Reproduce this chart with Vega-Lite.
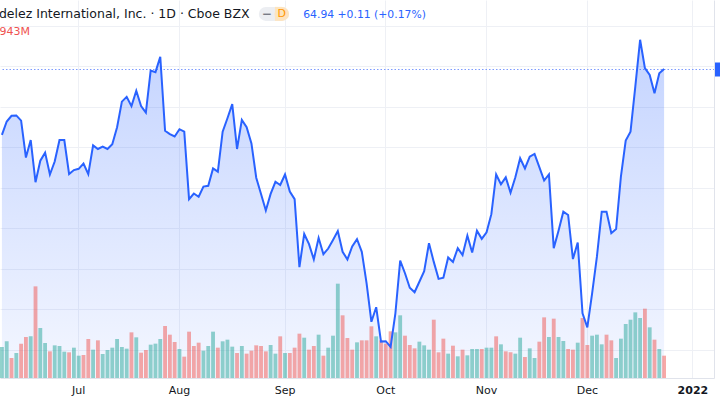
{
  "$schema": "https://vega.github.io/schema/vega-lite/v6.json",
  "width": 714,
  "height": 378,
  "autosize": "none",
  "padding": {"left": 0, "top": 0, "right": 6, "bottom": 22},
  "background": "white",
  "config": {"view": {"stroke": null}, "font": "DejaVu Sans", "text": {"font": "DejaVu Sans"}},
  "data": {"values": [
    {"date":"2021-06-09","close":63.31,"volume":8.25,"dir":"up"},
    {"date":"2021-06-10","close":63.64,"volume":9.76,"dir":"up"},
    {"date":"2021-06-11","close":63.78,"volume":5.32,"dir":"down"},
    {"date":"2021-06-14","close":63.79,"volume":6.65,"dir":"up"},
    {"date":"2021-06-15","close":63.66,"volume":9.14,"dir":"down"},
    {"date":"2021-06-16","close":62.75,"volume":10.91,"dir":"down"},
    {"date":"2021-06-17","close":63.18,"volume":11.09,"dir":"up"},
    {"date":"2021-06-18","close":62.14,"volume":24.39,"dir":"down"},
    {"date":"2021-06-21","close":62.67,"volume":13.31,"dir":"up"},
    {"date":"2021-06-22","close":62.87,"volume":9.31,"dir":"up"},
    {"date":"2021-06-23","close":62.33,"volume":7.10,"dir":"down"},
    {"date":"2021-06-24","close":62.65,"volume":8.69,"dir":"up"},
    {"date":"2021-06-25","close":63.18,"volume":8.52,"dir":"up"},
    {"date":"2021-06-28","close":63.18,"volume":7.01,"dir":"up"},
    {"date":"2021-06-29","close":62.34,"volume":6.83,"dir":"down"},
    {"date":"2021-06-30","close":62.44,"volume":8.07,"dir":"up"},
    {"date":"2021-07-01","close":62.47,"volume":5.94,"dir":"up"},
    {"date":"2021-07-02","close":62.60,"volume":6.12,"dir":"down"},
    {"date":"2021-07-06","close":62.34,"volume":10.38,"dir":"down"},
    {"date":"2021-07-07","close":63.05,"volume":7.54,"dir":"up"},
    {"date":"2021-07-08","close":62.96,"volume":10.02,"dir":"down"},
    {"date":"2021-07-09","close":63.02,"volume":6.39,"dir":"up"},
    {"date":"2021-07-12","close":62.96,"volume":7.45,"dir":"up"},
    {"date":"2021-07-13","close":63.08,"volume":8.07,"dir":"up"},
    {"date":"2021-07-14","close":63.50,"volume":10.38,"dir":"up"},
    {"date":"2021-07-15","close":64.13,"volume":8.25,"dir":"up"},
    {"date":"2021-07-16","close":64.25,"volume":7.81,"dir":"up"},
    {"date":"2021-07-19","close":64.02,"volume":12.15,"dir":"down"},
    {"date":"2021-07-20","close":64.40,"volume":10.82,"dir":"up"},
    {"date":"2021-07-21","close":64.02,"volume":6.74,"dir":"down"},
    {"date":"2021-07-22","close":63.86,"volume":7.45,"dir":"down"},
    {"date":"2021-07-23","close":64.90,"volume":8.87,"dir":"up"},
    {"date":"2021-07-26","close":64.86,"volume":9.14,"dir":"up"},
    {"date":"2021-07-27","close":65.24,"volume":10.38,"dir":"up"},
    {"date":"2021-07-28","close":63.41,"volume":13.84,"dir":"down"},
    {"date":"2021-07-29","close":63.33,"volume":11.53,"dir":"down"},
    {"date":"2021-07-30","close":63.27,"volume":9.58,"dir":"down"},
    {"date":"2021-08-02","close":63.45,"volume":7.72,"dir":"up"},
    {"date":"2021-08-03","close":63.39,"volume":5.68,"dir":"down"},
    {"date":"2021-08-04","close":61.72,"volume":12.33,"dir":"down"},
    {"date":"2021-08-05","close":61.86,"volume":8.52,"dir":"down"},
    {"date":"2021-08-06","close":61.78,"volume":9.40,"dir":"down"},
    {"date":"2021-08-09","close":62.03,"volume":7.27,"dir":"up"},
    {"date":"2021-08-10","close":62.05,"volume":8.52,"dir":"up"},
    {"date":"2021-08-11","close":62.48,"volume":12.33,"dir":"up"},
    {"date":"2021-08-12","close":62.40,"volume":8.07,"dir":"down"},
    {"date":"2021-08-13","close":63.39,"volume":9.76,"dir":"up"},
    {"date":"2021-08-16","close":63.72,"volume":10.20,"dir":"up"},
    {"date":"2021-08-17","close":64.07,"volume":8.34,"dir":"up"},
    {"date":"2021-08-18","close":62.96,"volume":6.65,"dir":"down"},
    {"date":"2021-08-19","close":63.68,"volume":8.52,"dir":"up"},
    {"date":"2021-08-20","close":63.50,"volume":6.48,"dir":"down"},
    {"date":"2021-08-23","close":63.10,"volume":7.27,"dir":"down"},
    {"date":"2021-08-24","close":62.25,"volume":8.69,"dir":"down"},
    {"date":"2021-08-25","close":61.85,"volume":8.52,"dir":"down"},
    {"date":"2021-08-26","close":61.44,"volume":7.10,"dir":"down"},
    {"date":"2021-08-27","close":61.85,"volume":8.78,"dir":"up"},
    {"date":"2021-08-30","close":62.15,"volume":6.48,"dir":"up"},
    {"date":"2021-08-31","close":62.07,"volume":11.09,"dir":"down"},
    {"date":"2021-09-01","close":62.33,"volume":6.65,"dir":"up"},
    {"date":"2021-09-02","close":61.91,"volume":6.65,"dir":"down"},
    {"date":"2021-09-03","close":61.72,"volume":8.07,"dir":"down"},
    {"date":"2021-09-07","close":60.04,"volume":11.80,"dir":"down"},
    {"date":"2021-09-08","close":60.86,"volume":10.73,"dir":"up"},
    {"date":"2021-09-09","close":60.61,"volume":7.54,"dir":"down"},
    {"date":"2021-09-10","close":60.23,"volume":8.52,"dir":"down"},
    {"date":"2021-09-13","close":60.76,"volume":11.53,"dir":"up"},
    {"date":"2021-09-14","close":60.36,"volume":5.94,"dir":"down"},
    {"date":"2021-09-15","close":60.50,"volume":8.07,"dir":"up"},
    {"date":"2021-09-16","close":60.71,"volume":11.26,"dir":"up"},
    {"date":"2021-09-17","close":60.93,"volume":25.10,"dir":"up"},
    {"date":"2021-09-20","close":60.42,"volume":16.68,"dir":"down"},
    {"date":"2021-09-21","close":60.23,"volume":10.64,"dir":"down"},
    {"date":"2021-09-22","close":60.55,"volume":7.54,"dir":"down"},
    {"date":"2021-09-23","close":60.73,"volume":9.49,"dir":"up"},
    {"date":"2021-09-24","close":60.42,"volume":10.02,"dir":"down"},
    {"date":"2021-09-27","close":59.64,"volume":10.02,"dir":"down"},
    {"date":"2021-09-28","close":58.69,"volume":13.75,"dir":"down"},
    {"date":"2021-09-29","close":59.05,"volume":11.09,"dir":"up"},
    {"date":"2021-09-30","close":58.20,"volume":10.02,"dir":"down"},
    {"date":"2021-10-01","close":58.21,"volume":9.14,"dir":"down"},
    {"date":"2021-10-04","close":58.07,"volume":12.42,"dir":"down"},
    {"date":"2021-10-05","close":58.90,"volume":12.15,"dir":"up"},
    {"date":"2021-10-06","close":60.20,"volume":16.68,"dir":"up"},
    {"date":"2021-10-07","close":59.89,"volume":11.26,"dir":"down"},
    {"date":"2021-10-08","close":59.53,"volume":8.78,"dir":"down"},
    {"date":"2021-10-11","close":59.42,"volume":7.89,"dir":"down"},
    {"date":"2021-10-12","close":59.68,"volume":9.67,"dir":"up"},
    {"date":"2021-10-13","close":59.94,"volume":8.69,"dir":"up"},
    {"date":"2021-10-14","close":60.63,"volume":7.54,"dir":"up"},
    {"date":"2021-10-15","close":60.17,"volume":15.52,"dir":"down"},
    {"date":"2021-10-18","close":59.75,"volume":6.83,"dir":"down"},
    {"date":"2021-10-19","close":59.78,"volume":10.47,"dir":"down"},
    {"date":"2021-10-20","close":60.28,"volume":6.48,"dir":"up"},
    {"date":"2021-10-21","close":60.17,"volume":8.60,"dir":"down"},
    {"date":"2021-10-22","close":60.51,"volume":5.77,"dir":"up"},
    {"date":"2021-10-25","close":60.34,"volume":7.54,"dir":"down"},
    {"date":"2021-10-26","close":60.82,"volume":6.03,"dir":"up"},
    {"date":"2021-10-27","close":60.40,"volume":7.72,"dir":"up"},
    {"date":"2021-10-28","close":60.94,"volume":7.72,"dir":"up"},
    {"date":"2021-10-29","close":60.74,"volume":7.72,"dir":"down"},
    {"date":"2021-11-01","close":60.90,"volume":8.07,"dir":"up"},
    {"date":"2021-11-02","close":61.35,"volume":8.07,"dir":"up"},
    {"date":"2021-11-03","close":62.33,"volume":11.09,"dir":"down"},
    {"date":"2021-11-04","close":62.09,"volume":8.96,"dir":"up"},
    {"date":"2021-11-05","close":62.26,"volume":7.10,"dir":"down"},
    {"date":"2021-11-08","close":61.88,"volume":6.83,"dir":"down"},
    {"date":"2021-11-09","close":62.26,"volume":6.48,"dir":"up"},
    {"date":"2021-11-10","close":62.73,"volume":10.73,"dir":"up"},
    {"date":"2021-11-11","close":62.48,"volume":5.59,"dir":"down"},
    {"date":"2021-11-12","close":62.77,"volume":7.89,"dir":"up"},
    {"date":"2021-11-15","close":62.84,"volume":5.32,"dir":"up"},
    {"date":"2021-11-16","close":62.51,"volume":9.67,"dir":"down"},
    {"date":"2021-11-17","close":62.18,"volume":16.14,"dir":"down"},
    {"date":"2021-11-18","close":62.33,"volume":10.91,"dir":"up"},
    {"date":"2021-11-19","close":60.51,"volume":15.79,"dir":"down"},
    {"date":"2021-11-22","close":60.94,"volume":10.91,"dir":"up"},
    {"date":"2021-11-23","close":61.41,"volume":9.85,"dir":"up"},
    {"date":"2021-11-24","close":61.33,"volume":7.72,"dir":"down"},
    {"date":"2021-11-26","close":60.24,"volume":7.54,"dir":"down"},
    {"date":"2021-11-29","close":60.65,"volume":9.40,"dir":"up"},
    {"date":"2021-11-30","close":58.90,"volume":15.97,"dir":"down"},
    {"date":"2021-12-01","close":58.55,"volume":8.78,"dir":"down"},
    {"date":"2021-12-02","close":59.39,"volume":11.26,"dir":"up"},
    {"date":"2021-12-03","close":60.30,"volume":11.53,"dir":"up"},
    {"date":"2021-12-06","close":61.41,"volume":8.96,"dir":"up"},
    {"date":"2021-12-07","close":61.41,"volume":11.53,"dir":"down"},
    {"date":"2021-12-08","close":60.88,"volume":10.02,"dir":"down"},
    {"date":"2021-12-09","close":60.98,"volume":5.32,"dir":"up"},
    {"date":"2021-12-10","close":62.28,"volume":10.47,"dir":"up"},
    {"date":"2021-12-13","close":63.17,"volume":14.37,"dir":"up"},
    {"date":"2021-12-14","close":63.39,"volume":15.52,"dir":"up"},
    {"date":"2021-12-15","close":64.50,"volume":17.47,"dir":"up"},
    {"date":"2021-12-16","close":65.66,"volume":15.97,"dir":"up"},
    {"date":"2021-12-17","close":64.96,"volume":18.45,"dir":"down"},
    {"date":"2021-12-20","close":64.79,"volume":13.48,"dir":"up"},
    {"date":"2021-12-21","close":64.34,"volume":10.20,"dir":"down"},
    {"date":"2021-12-22","close":64.83,"volume":7.72,"dir":"up"},
    {"date":"2021-12-23","close":64.94,"volume":5.94,"dir":"down"}
  ]},
  "encoding": {
    "x": {
      "field": "date", "type": "ordinal",
      "scale": {"paddingInner": 0.2, "paddingOuter": 0, "domain": ["2021-06-09","2021-06-10","2021-06-11","2021-06-14","2021-06-15","2021-06-16","2021-06-17","2021-06-18","2021-06-21","2021-06-22","2021-06-23","2021-06-24","2021-06-25","2021-06-28","2021-06-29","2021-06-30","2021-07-01","2021-07-02","2021-07-06","2021-07-07","2021-07-08","2021-07-09","2021-07-12","2021-07-13","2021-07-14","2021-07-15","2021-07-16","2021-07-19","2021-07-20","2021-07-21","2021-07-22","2021-07-23","2021-07-26","2021-07-27","2021-07-28","2021-07-29","2021-07-30","2021-08-02","2021-08-03","2021-08-04","2021-08-05","2021-08-06","2021-08-09","2021-08-10","2021-08-11","2021-08-12","2021-08-13","2021-08-16","2021-08-17","2021-08-18","2021-08-19","2021-08-20","2021-08-23","2021-08-24","2021-08-25","2021-08-26","2021-08-27","2021-08-30","2021-08-31","2021-09-01","2021-09-02","2021-09-03","2021-09-07","2021-09-08","2021-09-09","2021-09-10","2021-09-13","2021-09-14","2021-09-15","2021-09-16","2021-09-17","2021-09-20","2021-09-21","2021-09-22","2021-09-23","2021-09-24","2021-09-27","2021-09-28","2021-09-29","2021-09-30","2021-10-01","2021-10-04","2021-10-05","2021-10-06","2021-10-07","2021-10-08","2021-10-11","2021-10-12","2021-10-13","2021-10-14","2021-10-15","2021-10-18","2021-10-19","2021-10-20","2021-10-21","2021-10-22","2021-10-25","2021-10-26","2021-10-27","2021-10-28","2021-10-29","2021-11-01","2021-11-02","2021-11-03","2021-11-04","2021-11-05","2021-11-08","2021-11-09","2021-11-10","2021-11-11","2021-11-12","2021-11-15","2021-11-16","2021-11-17","2021-11-18","2021-11-19","2021-11-22","2021-11-23","2021-11-24","2021-11-26","2021-11-29","2021-11-30","2021-12-01","2021-12-02","2021-12-03","2021-12-06","2021-12-07","2021-12-08","2021-12-09","2021-12-10","2021-12-13","2021-12-14","2021-12-15","2021-12-16","2021-12-17","2021-12-20","2021-12-21","2021-12-22","2021-12-23","2021-12-27","2021-12-28","2021-12-29","2021-12-30","2021-12-31","2022-01-03","2022-01-04","2022-01-05","2022-01-06","2022-01-07"]},
      "axis": {
        "values": ["2021-07-01","2021-08-02","2021-09-01","2021-10-01","2021-11-01","2021-12-01","2022-01-03"],
        "labelExpr": "datum.value == '2022-01-03' ? '2022' : utcFormat(toDate(datum.value), '%b')",
        "labelFontWeight": {"condition": {"test": "datum.value == '2022-01-03'", "value": "bold"}, "value": "normal"},
        "bandPosition": 0.5,
        "title": null,
        "labelAngle": 0,
        "labelFont": "DejaVu Sans",
        "labelFontSize": 11,
        "labelColor": "#131722",
        "labelPadding": 6,
        "ticks": false,
        "grid": true,
        "gridColor": "#eef0f5",
        "domain": true,
        "domainColor": "#e0e3eb"
      }
    }
  },
  "resolve": {"scale": {"y": "independent"}, "axis": {"y": "independent"}},
  "layer": [
    {
      "mark": {"type": "area", "color": {"gradient": "linear", "x1": 0, "y1": 0, "x2": 0, "y2": 1, "stops": [{"offset": 0, "color": "rgba(41,98,255,0.28)"}, {"offset": 1, "color": "rgba(41,98,255,0.05)"}]}},
      "encoding": {
        "y": {"field": "close", "type": "quantitative", "scale": {"domain": [57.30, 66.643], "zero": false, "nice": false}, "axis": null},
        "y2": {"datum": 57.30}
      }
    },
    {
      "mark": {"type": "bar", "opacity": 0.5},
      "encoding": {
        "y": {"field": "volume", "type": "quantitative", "scale": {"domain": [0, 100.6], "nice": false}, "axis": null},
        "color": {"field": "dir", "type": "nominal", "scale": {"domain": ["up", "down"], "range": ["#26a69a", "#ef5350"]}, "legend": null}
      }
    },
    {
      "layer": [
        {
          "mark": {"type": "line", "color": "#2962ff", "strokeWidth": 2},
          "encoding": {
            "y": {
              "field": "close", "type": "quantitative",
              "scale": {"domain": [57.30, 66.643], "zero": false, "nice": false},
              "axis": {
                "orient": "right",
                "values": [58, 59, 60, 61, 62, 63, 64, 65, 66, 64.94],
                "labels": false,
                "title": null,
                "domain": true,
                "domainColor": "#e0e3eb",
                "grid": true,
                "gridColor": {"condition": {"test": "datum.value === 64.94", "value": "#7d9bff"}, "value": "#eef0f5"},
                "gridDash": {"condition": {"test": "datum.value === 64.94", "value": [1.5, 2]}, "value": []},
                "ticks": true,
                "tickSize": 8,
                "tickWidth": 14,
                "tickColor": {"condition": {"test": "datum.value === 64.94", "value": "#2962ff"}, "value": "rgba(0,0,0,0)"}
              }
            }
          }
        },
        {
          "data": {"values": [{}]},
          "mark": {"type": "rule", "color": "#eceef2", "strokeWidth": 14, "strokeCap": "round", "x2Offset": -3},
          "encoding": {
            "x": {"datum": "2021-08-26", "type": "ordinal"},
            "x2": {"datum": "2021-09-01"},
            "y": {"datum": 66.30, "type": "quantitative"}
          }
        },
        {
          "data": {"values": [{}]},
          "mark": {"type": "rule", "color": "#fde4bf", "strokeWidth": 14, "strokeCap": "butt", "xOffset": -0.5, "x2Offset": -3},
          "encoding": {
            "x": {"datum": "2021-08-30", "type": "ordinal"},
            "x2": {"datum": "2021-09-01"},
            "y": {"datum": 66.30, "type": "quantitative"}
          }
        },
        {
          "data": {"values": [{}]},
          "mark": {"type": "rule", "color": "#fde4bf", "strokeWidth": 14, "strokeCap": "round", "xOffset": -3.5, "x2Offset": -3},
          "encoding": {
            "x": {"datum": "2021-09-01", "type": "ordinal"},
            "x2": {"datum": "2021-09-01"},
            "y": {"datum": 66.30, "type": "quantitative"}
          }
        },
        {
          "data": {"values": [{}]},
          "mark": {"type": "text", "text": "−", "color": "#787b86", "fontSize": 12, "fontWeight": "bold", "align": "center", "baseline": "middle", "dx": 1},
          "encoding": {
            "x": {"datum": "2021-08-26", "type": "ordinal"},
            "y": {"datum": 66.30, "type": "quantitative"}
          }
        },
        {
          "data": {"values": [{}]},
          "mark": {"type": "text", "text": "D", "color": "#ff9800", "fontSize": 11, "align": "center", "baseline": "middle", "dx": 1.5},
          "encoding": {
            "x": {"datum": "2021-08-31", "type": "ordinal"},
            "y": {"datum": 66.30, "type": "quantitative"}
          }
        },
        {
          "data": {"values": [{}]},
          "mark": {"type": "text", "text": "delez International, Inc. · 1D · Cboe BZX", "color": "#131722", "fontSize": 12.5, "align": "left", "baseline": "middle", "dx": -3},
          "encoding": {
            "x": {"datum": "2021-06-09", "type": "ordinal"},
            "y": {"datum": 66.30, "type": "quantitative"}
          }
        },
        {
          "data": {"values": [{}]},
          "mark": {"type": "text", "text": "943M", "color": "#ef5350", "fontSize": 11, "align": "left", "baseline": "middle", "dx": -2.5},
          "encoding": {
            "x": {"datum": "2021-06-09", "type": "ordinal"},
            "y": {"datum": 65.85, "type": "quantitative"}
          }
        },
        {
          "data": {"values": [{}]},
          "mark": {"type": "text", "text": "64.94 +0.11 (+0.17%)", "color": "#2962ff", "fontSize": 10.8, "align": "left", "baseline": "middle", "dx": -1},
          "encoding": {
            "x": {"datum": "2021-09-08", "type": "ordinal"},
            "y": {"datum": 66.27, "type": "quantitative"}
          }
        }
      ]
    }
  ]
}
